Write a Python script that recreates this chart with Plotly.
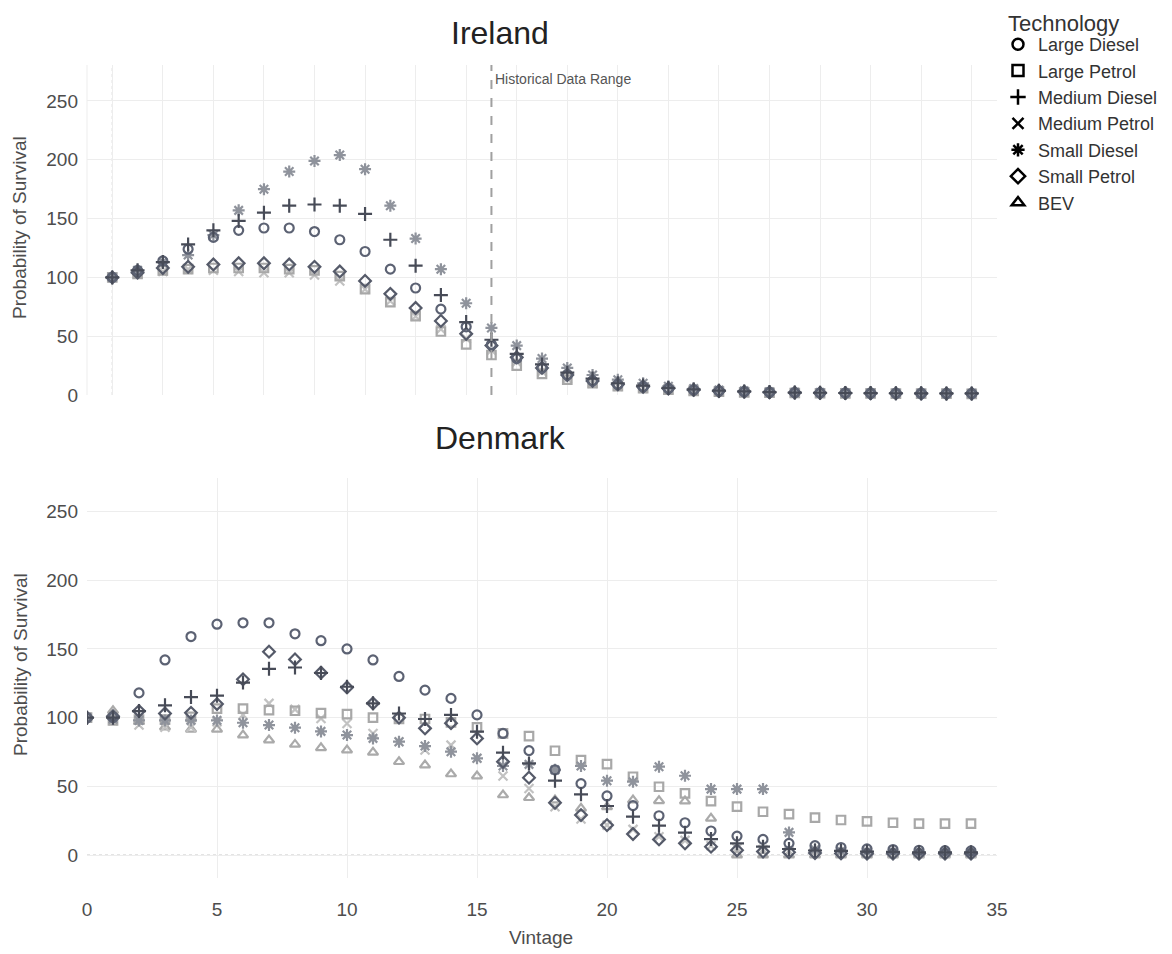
import plotly.graph_objects as go

# ---------------- data ----------------
vintage = list(range(35))
series_names = ["Large Diesel", "Large Petrol", "Medium Diesel", "Medium Petrol",
                "Small Diesel", "Small Petrol", "BEV"]

# Ireland
ie_large_diesel = [100, 106, 114, 124, 134, 140, 142, 142, 139, 132, 122, 107, 91, 73, 58, 43, 31, 23, 17, 12,
                   9, 7, 5.5, 4.3, 3.4, 2.8, 2.3, 2.0, 1.8, 1.6, 1.5, 1.4, 1.3, 1.2, 1.2]
ie_large_petrol = [100, 103, 106, 107, 108, 108, 108, 107, 106, 101, 90, 79, 67, 54, 43, 34, 25, 18, 13, 10,
                   7.5, 5.8, 4.5, 3.5, 2.8, 2.3, 1.9, 1.7, 1.5, 1.4, 1.3, 1.2, 1.1, 1.1, 1.0]
ie_medium_diesel = [100, 106, 113, 128, 140, 148, 155, 161, 162, 161, 154, 132, 110, 85, 62, 47, 35, 26, 19, 14,
                    10, 8, 6, 4.7, 3.7, 3.0, 2.5, 2.1, 1.9, 1.7, 1.6, 1.5, 1.4, 1.3, 1.3]
ie_medium_petrol = [100, 103, 105, 107, 106, 105, 104, 104, 102, 97, 90, 80, 67, 56, 48, 38, 28, 20, 14, 10,
                    7.5, 5.8, 4.5, 3.6, 2.9, 2.4, 2.0, 1.7, 1.5, 1.4, 1.3, 1.2, 1.1, 1.1, 1.0]
ie_small_diesel = [100, 106, 113, 119, 136, 157, 175, 190, 199, 204, 192, 161, 133, 107, 78, 57, 42, 31, 23, 17,
                   13, 10, 7.5, 5.5, 4.3, 3.5, 2.8, 2.4, 2.1, 1.9, 1.7, 1.6, 1.5, 1.4, 1.4]
ie_small_petrol = [100, 104, 108, 109, 111, 112, 112, 111, 109, 105, 97, 86, 74, 63, 52, 42, 32, 23, 17, 12,
                   9, 7, 5.5, 4.3, 3.4, 2.8, 2.3, 2.0, 1.8, 1.6, 1.5, 1.4, 1.3, 1.2, 1.2]

# Denmark
dk_large_diesel = [100, 100, 118, 142, 159, 168, 169, 169, 161, 156, 150, 142, 130, 120, 114, 102, 88.5, 76, 62, 52,
                   43, 36, 28.6, 23.5, 17.5, 13.8, 11.4, 8.5, 6.8, 5.5, 4.5, 4.0, 3.5, 3.2, 3.0]
dk_large_petrol = [100, 98, 98.5, 98.5, 100.5, 106.5, 106.5, 105.5, 105, 103.3, 102.6, 100, 99, 99, 96.6, 92.9, 88.5,
                   86.6, 75.9, 69.1, 66.2, 57, 49.7, 44.9, 39.3, 35.2, 31.5, 29.8, 27.2, 25.5, 24.5, 23.5, 22.8,
                   22.8, 22.8]
dk_medium_diesel = [100, 100, 104.8, 109, 115, 116, 125.5, 135.5, 136.5, 132.5, 122.5, 110.4, 103, 99, 102, 89.8,
                    74.5, 66.7, 54.1, 44.2, 35.7, 27.9, 21.4, 16.3, 11.6, 8.5, 6.1, 4.4, 3.3, 3.0, 2.5, 2.3, 2.0,
                    2.0, 2.0]
dk_medium_petrol = [100, 98, 94.6, 93, 93, 97, 102, 110.4, 106, 99.4, 95.8, 88.5, 82.5, 76.4, 80, 70.4, 57.5, 48.5,
                    35.2, 26.2, 21.8, 18.7, 13.3, 10.7, 6.8, 5.0, 4.0, 3.0, 2.5, 2.0, 2.0, 1.5, 1.5, 1.5, 1.5]
dk_small_diesel = [100, 99, 98, 98, 98, 98, 96.3, 94.6, 92.7, 90, 87.3, 84.9, 82.5, 79.3, 75.2, 70.4, 64.8, 66,
                   62, 64.8, 54.1, 53.4, 64.3, 57.7, 48, 48, 48, 16.5, 4.0, 3.0, 2.5, 2.2, 2.0, 2.0, 2.0]
dk_small_petrol = [100, 101, 104.8, 103, 103.5, 109.9, 127.9, 148, 142.4, 132.7, 122, 110.4, 100, 92.2, 96, 84.9,
                   67.9, 56.3, 38, 29.1, 21.8, 15.3, 11.4, 8.5, 6.1, 3.5, 2.5, 2.0, 1.5, 1.2, 1.0, 1.0, 1.0, 1.0, 1.0]
dk_bev = [100, 105, 97, 93, 91.5, 91.5, 87.3, 83.7, 80.5, 78, 76.4, 74.7, 67.9, 65.5, 59, 57.5, 43.7, 41.7, 40, 34,
          35, 40, 39.5, 39.3, 26.7, 0, 0, 0, 0, 0, 0, 0, 0, 0, 0]

historical_limit = 15
y_ticks = [0, 50, 100, 150, 200, 250]

# ---------------- styles ----------------
symbols = {
    "Large Diesel": "circle-open",
    "Large Petrol": "square-open",
    "Medium Diesel": "cross-thin-open",
    "Medium Petrol": "x-thin-open",
    "Small Diesel": "asterisk-open",
    "Small Petrol": "diamond-open",
    "BEV": "triangle-up-open",
}
colors = {
    "Large Diesel": "#5c6273",
    "Large Petrol": "#a8a8a8",
    "Medium Diesel": "#474b57",
    "Medium Petrol": "#c2c2c2",
    "Small Diesel": "#8f939c",
    "Small Petrol": "#555a69",
    "BEV": "#aaaaaa",
}
sizes = {
    "Large Diesel": 9, "Large Petrol": 8.5, "Medium Diesel": 10, "Medium Petrol": 9,
    "Small Diesel": 10, "Small Petrol": 9, "BEV": 9,
}

ireland = {
    "Large Diesel": ie_large_diesel, "Large Petrol": ie_large_petrol,
    "Medium Diesel": ie_medium_diesel, "Medium Petrol": ie_medium_petrol,
    "Small Diesel": ie_small_diesel, "Small Petrol": ie_small_petrol,
}
denmark = {
    "Large Diesel": dk_large_diesel, "Large Petrol": dk_large_petrol,
    "Medium Diesel": dk_medium_diesel, "Medium Petrol": dk_medium_petrol,
    "Small Diesel": dk_small_diesel, "Small Petrol": dk_small_petrol,
    "BEV": dk_bev,
}

draw_order = ["BEV", "Medium Petrol", "Large Petrol", "Small Diesel", "Small Petrol",
              "Large Diesel", "Medium Diesel"]

FONT = "Arial, 'Liberation Sans', sans-serif"
fig = go.Figure()

def add_series(data, xa, ya, clip):
    for name in draw_order:
        if name not in data:
            continue
        c = colors[name]
        fig.add_trace(go.Scatter(
            x=vintage, y=data[name], mode="markers", name=name, showlegend=False,
            xaxis=xa, yaxis=ya, cliponaxis=clip, hoverinfo="x+y+name",
            marker=dict(symbol=symbols[name], size=sizes[name], color=c,
                        line=dict(width=2.2, color=c)),
        ))

add_series(ireland, "x", "y", False)
add_series(denmark, "x2", "y2", True)

# legend-only entries (black symbols)
for name in series_names:
    fig.add_trace(go.Scatter(
        x=[None], y=[None], mode="markers", name=name, showlegend=True,
        xaxis="x", yaxis="y",
        marker=dict(symbol=symbols[name], size=11, color="black",
                    line=dict(width=2.5, color="black")),
    ))

# page has an 8px body margin: work in page pixels, convert to figure pixels
OFF = 8
W, H = 1172 - OFF, 954 - OFF
PL, PR, PT, PB = 87, 997, 65, 878          # plot area in page pixels
L, T = PL - OFF, PT - OFF
R, B = W - (PR - OFF), H - (PB - OFF)
PW, PH = W - L - R, H - T - B

def px_x(p):
    return (p - PL) / PW

def px_y(q):
    return (PB - q) / PH

grid = "#ededed"
tickfont = dict(family=FONT, size=19, color="#4d4d4d")

fig.update_layout(
    width=W, height=H,
    margin=dict(l=L, r=R, t=T, b=B, autoexpand=False),
    paper_bgcolor="white", plot_bgcolor="white",
    font=dict(family=FONT, color="#333333"),
    xaxis=dict(domain=[0, 1], anchor="y", range=[-1.0, 35.0], tick0=0, dtick=2,
               showticklabels=False, showgrid=True, gridcolor=grid, zeroline=False,
               showline=False, ticks=""),
    yaxis=dict(domain=[px_y(395), 1.0], anchor="x", range=[0, 280.6], tickvals=y_ticks,
               showgrid=True, gridcolor=grid, zeroline=False, showline=False,
               tickfont=tickfont, ticks="", ticklabelstandoff=8),
    xaxis2=dict(domain=[0, 1], anchor="y2", range=[0, 35], tick0=0, dtick=5,
                showgrid=True, gridcolor=grid, zeroline=False, showline=False,
                tickfont=tickfont, ticks="", ticklabelstandoff=18),
    yaxis2=dict(domain=[0, px_y(478)], anchor="x2", range=[-16.7, 274.4], tickvals=y_ticks,
                showgrid=True, gridcolor=grid, zeroline=False, showline=False,
                tickfont=tickfont, ticks="", ticklabelstandoff=8),
    legend=dict(
        x=px_x(998), y=px_y(26), xanchor="left", yanchor="top",
        font=dict(family=FONT, size=18, color="#333333"),
        bgcolor="rgba(0,0,0,0)", itemsizing="trace", tracegroupgap=0,
    ),
    showlegend=True,
)

shapes = [
    # left edge line of Ireland panel
    dict(type="line", xref="x domain", yref="y domain", x0=0, x1=0, y0=0, y1=1,
         line=dict(color=grid, width=1), layer="below"),
    # dotted reference line Ireland
    dict(type="line", xref="x", yref="y domain", x0=0, x1=0, y0=0, y1=1,
         line=dict(color="#c4c4c4", width=1, dash="dot"), layer="below"),
    # historical data range
    dict(type="line", xref="x", yref="y domain", x0=historical_limit, x1=historical_limit, y0=0, y1=1,
         line=dict(color="#a0a0a0", width=2, dash="dash")),
    # dotted zero line Denmark
    dict(type="line", xref="x2 domain", yref="y2", x0=0, x1=1, y0=0, y1=0,
         line=dict(color="#c4c4c4", width=1, dash="dot"), layer="below"),
]
fig.update_layout(shapes=shapes)

annotations = [
    dict(text="Technology", xref="paper", yref="paper", x=px_x(1006), y=px_y(23),
         xanchor="left", yanchor="middle", showarrow=False,
         font=dict(family=FONT, size=22, color="#333333")),
    dict(text="Ireland", xref="paper", yref="paper", x=px_x(500), y=px_y(33),
         xanchor="center", yanchor="middle", showarrow=False,
         font=dict(family=FONT, size=32, color="#222222")),
    dict(text="Denmark", xref="paper", yref="paper", x=px_x(500), y=px_y(438),
         xanchor="center", yanchor="middle", showarrow=False,
         font=dict(family=FONT, size=32, color="#222222")),
    dict(text="Probability of Survival", xref="paper", yref="paper", x=px_x(20), y=px_y(228),
         xanchor="center", yanchor="middle", textangle=-90, showarrow=False,
         font=dict(family=FONT, size=19, color="#4d4d4d")),
    dict(text="Probability of Survival", xref="paper", yref="paper", x=px_x(20), y=px_y(665),
         xanchor="center", yanchor="middle", textangle=-90, showarrow=False,
         font=dict(family=FONT, size=19, color="#4d4d4d")),
    dict(text="Vintage", xref="paper", yref="paper", x=px_x(541), y=px_y(938),
         xanchor="center", yanchor="middle", showarrow=False,
         font=dict(family=FONT, size=19, color="#4d4d4d")),
    dict(text="Historical Data Range", xref="x", yref="paper", x=historical_limit, y=px_y(79),
         xanchor="left", yanchor="middle", xshift=2, showarrow=False,
         font=dict(family=FONT, size=14, color="#555555")),
]
fig.update_layout(annotations=annotations)

fig.write_html("out.html")
